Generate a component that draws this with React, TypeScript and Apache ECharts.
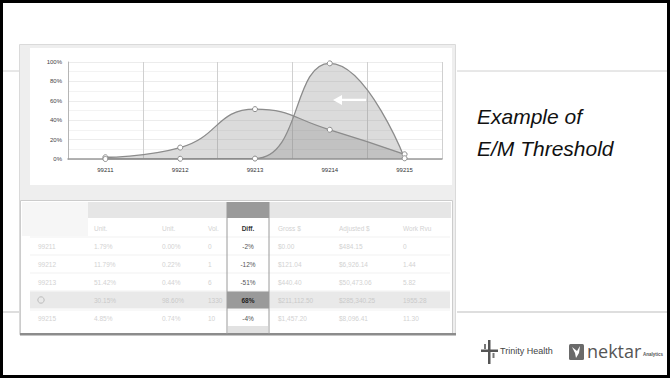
import React, { useEffect, useRef } from 'react';
import * as echarts from 'echarts';

const codes = ['99211', '99212', '99213', '99214', '99215'];
const peerPct = [1.79, 11.79, 51.42, 30.15, 4.85];
const providerPct = [0.0, 0.22, 0.44, 98.6, 0.74];
const volumes = ['0', '1', '6', '1330', '10'];
const diffs = ['-2%', '-12%', '-51%', '68%', '-4%'];
const gross = ['$0.00', '$121.04', '$440.40', '$211,112.50', '$1,457.20'];
const adjusted = ['$484.15', '$6,926.14', '$50,473.06', '$285,340.25', '$8,096.41'];
const workRvu = ['0', '1.44', '5.82', '1955.28', '11.30'];
const colHeaders = ['Unit.', 'Unit.', 'Vol.', 'Diff.', 'Gross $', 'Adjusted $', 'Work Rvu'];
const yTicks = [0, 20, 40, 60, 80, 100];
const titleLines = ['Example of', 'E/M Threshold'];
const highlightRow = 3;

export default function App() {
  const ref = useRef<HTMLDivElement>(null);
  useEffect(() => {
    const chart = echarts.init(ref.current as HTMLDivElement, null, { renderer: 'svg' });

    const faint = '#d2d2d2';
    const rowY = [246, 264, 282, 300, 318];
    const headX = [94, 162, 208, 248, 278, 339, 403];
    const g: any[] = [];

    // slide frame lines
    g.push({ type: 'line', z: -20, shape: { x1: 3, y1: 71, x2: 19, y2: 71 }, style: { stroke: '#d0d0d0', lineWidth: 1 } });
    g.push({ type: 'line', z: -20, shape: { x1: 457, y1: 71, x2: 667, y2: 71 }, style: { stroke: '#d0d0d0', lineWidth: 1 } });
    g.push({ type: 'line', z: -20, shape: { x1: 3, y1: 312, x2: 20, y2: 312 }, style: { stroke: '#bdbdbd', lineWidth: 1 } });
    g.push({ type: 'line', z: -20, shape: { x1: 457, y1: 312, x2: 667, y2: 312 }, style: { stroke: '#bdbdbd', lineWidth: 1 } });

    // screenshot panel
    g.push({ type: 'rect', z: -19, shape: { x: 19.5, y: 44.5, width: 436, height: 290 }, style: { fill: '#eeeeee', stroke: '#dadada', lineWidth: 1 } });
    g.push({ type: 'rect', z: -18, shape: { x: 30, y: 48, width: 422, height: 137 }, style: { fill: '#ffffff' } });
    g.push({ type: 'rect', z: -18, shape: { x: 20.5, y: 200.5, width: 432, height: 133 }, style: { fill: '#ffffff', stroke: '#cccccc', lineWidth: 1 } });
    g.push({ type: 'rect', z: -17, shape: { x: 20, y: 333, width: 436, height: 2.5 }, style: { fill: '#8c8c8c' } });

    // table header blocks
    g.push({ type: 'rect', z: -17, shape: { x: 22, y: 202, width: 66, height: 34 }, style: { fill: '#f6f6f6' } });
    g.push({ type: 'rect', z: -17, shape: { x: 88, y: 202, width: 139, height: 16 }, style: { fill: '#e6e6e6' } });
    g.push({ type: 'rect', z: -17, shape: { x: 269, y: 202, width: 182, height: 16 }, style: { fill: '#e6e6e6' } });
    g.push({ type: 'rect', z: -16, shape: { x: 227, y: 202, width: 42, height: 16 }, style: { fill: '#9a9a9a' } });

    // row separators
    [237, 255, 273, 291, 310].forEach((y) => {
      g.push({ type: 'line', z: -17, shape: { x1: 30, y1: y, x2: 450, y2: y }, style: { stroke: '#f1f1f1', lineWidth: 1 } });
    });

    // highlighted row
    const hy = rowY[highlightRow];
    g.push({ type: 'rect', z: -16, shape: { x: 30, y: hy - 8.5, width: 420, height: 17 }, style: { fill: '#e9e9e9' } });
    g.push({ type: 'rect', z: -15, shape: { x: 227, y: hy - 8.5, width: 42, height: 17 }, style: { fill: '#9a9a9a' } });
    g.push({ type: 'rect', z: -15, shape: { x: 228, y: 326, width: 40, height: 7 }, style: { fill: '#e2e2e2' } });

    // diff column borders
    g.push({ type: 'line', z: -14, shape: { x1: 227, y1: 202, x2: 227, y2: 334 }, style: { stroke: '#9a9a9a', lineWidth: 1 } });
    g.push({ type: 'line', z: -14, shape: { x1: 269, y1: 202, x2: 269, y2: 334 }, style: { stroke: '#9a9a9a', lineWidth: 1 } });

    // column headers
    colHeaders.forEach((h, i) => {
      const isDiff = h === 'Diff.';
      g.push({
        type: 'text', z: -13,
        style: {
          text: h, x: headX[i], y: 228,
          fill: isDiff ? '#333333' : faint,
          font: (isDiff ? 'bold ' : '') + '6.5px "Liberation Sans", Arial, sans-serif',
          align: isDiff ? 'center' : 'left', verticalAlign: 'middle',
        },
      });
    });

    // table rows
    codes.forEach((code, r) => {
      const y = rowY[r];
      const hl = r === highlightRow;
      const col = hl ? '#c9c9c9' : faint;
      const font = '6.5px "Liberation Sans", Arial, sans-serif';
      if (hl) {
        g.push({ type: 'circle', z: -13, shape: { cx: 41, cy: y, r: 3.2 }, style: { fill: 'none', stroke: '#bbbbbb', lineWidth: 1 } });
      } else {
        g.push({ type: 'text', z: -13, style: { text: code, x: 38, y, fill: col, font, verticalAlign: 'middle' } });
      }
      const vals = [
        peerPct[r].toFixed(2) + '%',
        providerPct[r].toFixed(2) + '%',
        volumes[r],
      ];
      vals.forEach((v, i) => {
        g.push({ type: 'text', z: -13, style: { text: v, x: headX[i], y, fill: col, font, verticalAlign: 'middle' } });
      });
      g.push({
        type: 'text', z: -13,
        style: {
          text: diffs[r], x: 248, y,
          fill: hl ? '#1e1e1e' : '#555555',
          font: (hl ? 'bold ' : '') + font,
          align: 'center', verticalAlign: 'middle',
        },
      });
      [gross[r], adjusted[r], workRvu[r]].forEach((v, i) => {
        g.push({ type: 'text', z: -13, style: { text: v, x: headX[4 + i], y, fill: col, font, verticalAlign: 'middle' } });
      });
    });

    // arrow on chart
    g.push({ type: 'line', z: 50, shape: { x1: 339, y1: 100, x2: 366, y2: 100 }, style: { stroke: '#ffffff', lineWidth: 2.5 } });
    g.push({ type: 'polygon', z: 50, shape: { points: [[333, 100], [342, 95], [342, 105]] }, style: { fill: '#ffffff' } });

    // title text
    titleLines.forEach((t, i) => {
      g.push({
        type: 'text', z: 5,
        style: {
          text: t, x: 477, y: 116 + i * 32,
          fill: '#111111',
          font: 'italic 21px "Liberation Sans", Arial, sans-serif',
          verticalAlign: 'middle',
        },
      });
    });

    // Trinity Health logo
    g.push({ type: 'rect', z: 5, shape: { x: 488, y: 340, width: 2.5, height: 24 }, style: { fill: '#555555' } });
    g.push({ type: 'rect', z: 5, shape: { x: 481, y: 349.5, width: 17, height: 2.5 }, style: { fill: '#555555' } });
    g.push({ type: 'rect', z: 5, shape: { x: 484, y: 344, width: 2, height: 5 }, style: { fill: '#777777' } });
    g.push({ type: 'rect', z: 5, shape: { x: 492.5, y: 353, width: 2, height: 5 }, style: { fill: '#777777' } });
    g.push({ type: 'text', z: 5, style: { text: 'Trinity Health', x: 500, y: 351, fill: '#444444', font: '9px "Liberation Sans", Arial, sans-serif', verticalAlign: 'middle' } });

    // nektar logo
    g.push({ type: 'rect', z: 5, shape: { x: 569, y: 344, width: 15, height: 16, r: 1.5 }, style: { fill: '#6a6a6a' } });
    g.push({ type: 'polygon', z: 6, shape: { points: [[572, 347], [577, 351], [580, 346], [579, 353], [576, 358], [575, 353]] }, style: { fill: '#ffffff' } });
    g.push({ type: 'text', z: 5, style: { text: 'nektar', x: 587, y: 351, fill: '#555555', font: '18px "Open Sans", "Noto Sans", sans-serif', verticalAlign: 'middle' } });
    g.push({ type: 'text', z: 5, style: { text: 'Analytics', x: 643, y: 354, fill: '#555555', font: 'bold 4.5px "Liberation Sans", Arial, sans-serif', verticalAlign: 'middle' } });

    // slide border
    g.push({ type: 'rect', z: 100, shape: { x: 1.5, y: 1.5, width: 667, height: 375 }, style: { fill: 'none', stroke: '#000000', lineWidth: 3 } });

    const option: any = {
      animation: false,
      backgroundColor: '#ffffff',
      grid: { left: 68, right: 228, top: 62, bottom: 219, containLabel: false },
      xAxis: {
        type: 'category',
        data: codes,
        boundaryGap: true,
        axisLine: { lineStyle: { color: '#999999', width: 1.5 } },
        axisTick: { show: false },
        axisLabel: { fontSize: 6, color: '#333333', margin: 8, fontFamily: '"Liberation Sans", Arial, sans-serif' },
        splitLine: { show: true, lineStyle: { color: '#d0d0d0', width: 1 } },
        z: 1,
      },
      yAxis: {
        type: 'value',
        min: 0,
        max: 100,
        interval: 20,
        axisLine: { show: true, lineStyle: { color: '#b5b5b5', width: 1 } },
        axisTick: { show: false },
        axisLabel: {
          fontSize: 6, color: '#444444', margin: 6,
          fontFamily: '"Liberation Sans", Arial, sans-serif',
          formatter: (v: number) => (yTicks.includes(v) ? v + '%' : ''),
        },
        splitLine: { show: true, lineStyle: { color: '#ececec', width: 1 } },
        minorTick: { show: false, splitNumber: 2 },
        minorSplitLine: { show: true, lineStyle: { color: '#f3f3f3', width: 1 } },
        z: 1,
      },
      series: [
        {
          type: 'line',
          name: 'Peer',
          data: peerPct,
          smooth: true,
          symbol: 'circle',
          symbolSize: 5,
          lineStyle: { color: '#8c8c8c', width: 1.3 },
          itemStyle: { color: '#ffffff', borderColor: '#8c8c8c', borderWidth: 1 },
          areaStyle: { color: '#888888', opacity: 0.3 },
          z: 3,
        },
        {
          type: 'line',
          name: 'Provider',
          data: providerPct,
          smooth: true,
          symbol: 'circle',
          symbolSize: 5,
          lineStyle: { color: '#8c8c8c', width: 1.3 },
          itemStyle: { color: '#ffffff', borderColor: '#8c8c8c', borderWidth: 1 },
          areaStyle: { color: '#888888', opacity: 0.3 },
          z: 3,
        },
      ],
      graphic: { elements: g },
    };
    chart.setOption(option);
    return () => chart.dispose();
  }, []);
  return <div ref={ref} style={{ position: 'absolute', left: 0, top: 0, width: 670, height: 378 }} />;
}
